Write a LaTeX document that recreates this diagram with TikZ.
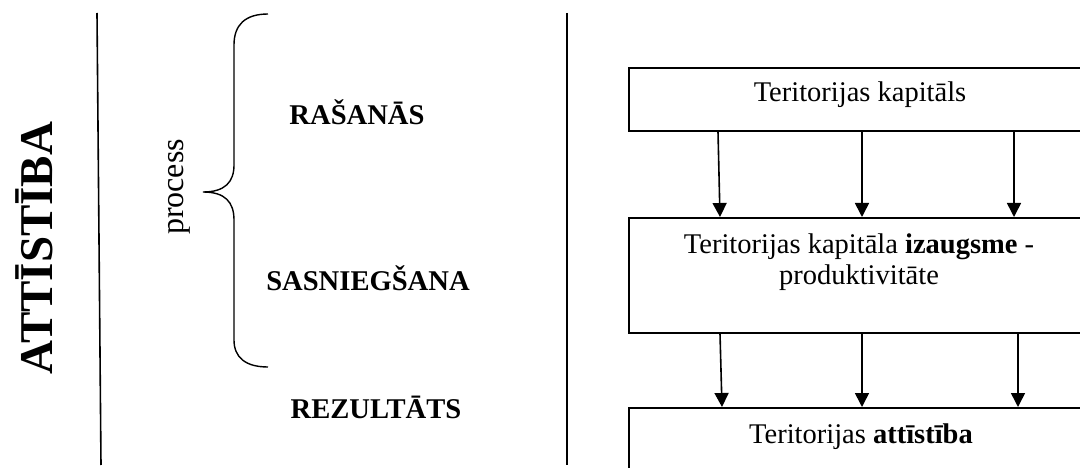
\documentclass[tikz,border=0pt]{standalone}
\usepackage{fontspec}
\setmainfont{Liberation Serif}
\usetikzlibrary{arrows.meta,calc}
\begin{document}
\begin{tikzpicture}[x=1pt,y=-1pt,
  rule/.style={line width=1.6pt,black},
  box/.style={draw,line width=1.6pt,minimum width=464pt,inner sep=0pt,anchor=north west},
  arr/.style={line width=1.6pt,-{Triangle[length=14pt,width=14pt]}},
  txt/.style={font=\fontsize{28.5}{31}\selectfont,inner sep=0pt,align=center},
  head/.style={font=\fontsize{28.6}{32}\selectfont\bfseries,inner sep=0pt},
  big/.style={font=\fontsize{47}{50}\selectfont\bfseries,inner sep=0pt,rotate=90}]
\useasboundingbox (0,0) rectangle (1080,468);
\clip (0,0) rectangle (1080,468);
% vertical rules
\coordinate (l1t) at (97,13);
\coordinate (l1b) at (101,465);
\coordinate (l2t) at (567,13);
\coordinate (l2b) at (567,465);
\draw[rule] (l1t) -- (l1b);
\draw[rule] (l2t) -- (l2b);
% rotated labels
\node[big,anchor=base] (att) at (52,248) {ATTĪSTĪBA};
\node[font=\fontsize{32}{34}\selectfont,inner sep=0pt,rotate=90,anchor=base] (proc) at (183,187) {process};
% brace
\draw[line width=1.4pt] (268,14) .. controls (245,14) and (234,25) .. (234,45) -- (234,165)
  .. controls (234,182) and (225,192) .. (203,192)
  .. controls (225,192) and (234,202) .. (234,220) -- (234,340)
  .. controls (234,357) and (245,367) .. (268,367);
% stage headings
\node[head] (ras) at (357,112) {RAŠANĀS};
\node[head] (sas) at (368,278) {SASNIEGŠANA};
\node[head] (rez) at (376,407) {REZULTĀTS};
% boxes
\node[box,minimum height=63pt] (b1) at (628,67) {};
\node[box,minimum height=115pt] (b2) at (628,217) {};
\node[box,minimum height=100pt] (b3) at (628,407) {};
\node[txt] (t1) at (860,95) {Teritorijas kapitāls};
\node[txt] (t2) at (859,262) {Teritorijas kapitāla \textbf{izaugsme} -\\produktivitāte};
\node[txt] (t3) at (861,437) {Teritorijas \textbf{attīstība}};
% arrows
\draw[arr] ([xshift=90pt]b1.south west) -- ([xshift=92pt]b2.north west);
\draw[arr] ([xshift=234pt]b1.south west) -- ([xshift=234pt]b2.north west);
\draw[arr] ([xshift=386pt]b1.south west) -- ([xshift=386pt]b2.north west);
\draw[arr] ([xshift=92pt]b2.south west) -- ([xshift=94pt]b3.north west);
\draw[arr] ([xshift=234pt]b2.south west) -- ([xshift=234pt]b3.north west);
\draw[arr] ([xshift=390pt]b2.south west) -- ([xshift=390pt]b3.north west);
\end{tikzpicture}
\end{document}
